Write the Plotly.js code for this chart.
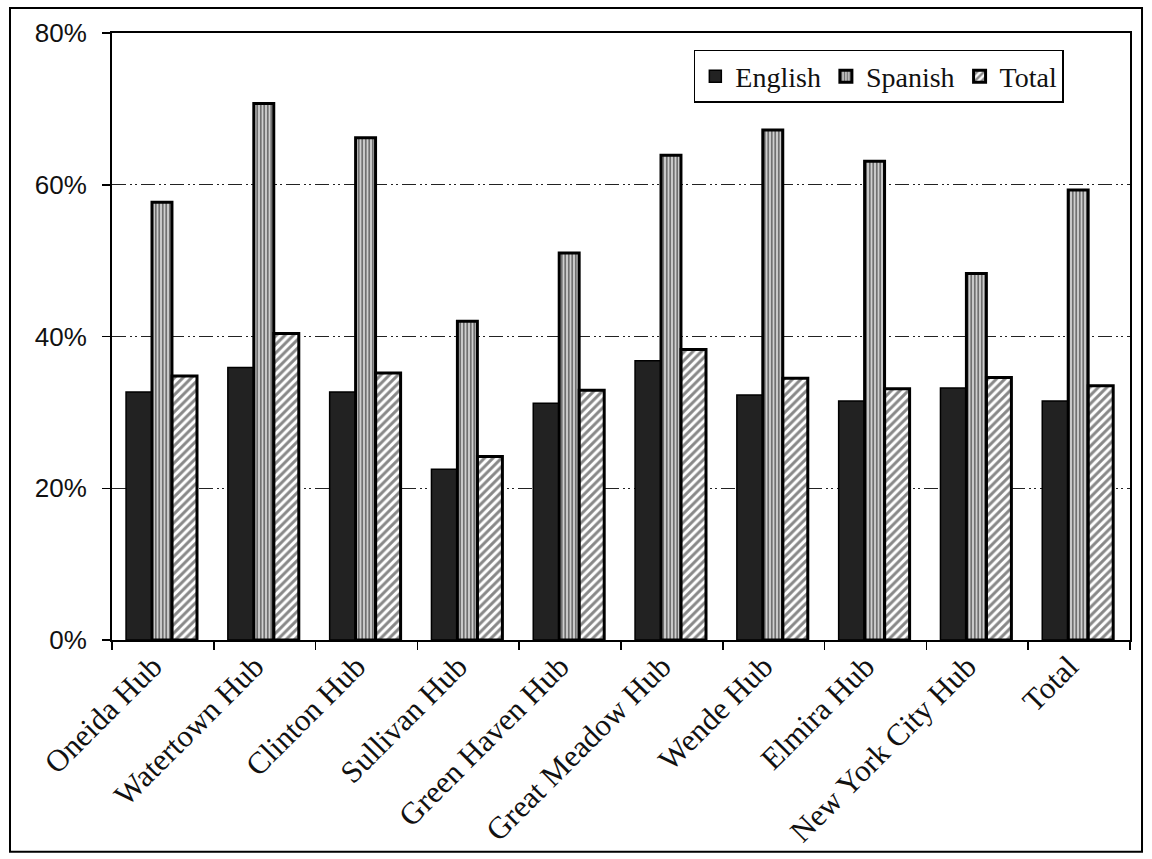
<!DOCTYPE html>
<html>
<head>
<meta charset="utf-8">
<script src="https://cdn.plot.ly/plotly-3.0.1.min.js"></script>
<style>
  html, body { margin: 0; padding: 0; background: #ffffff; }
  #chart { width: 1152px; height: 859px; }
</style>
</head>
<body>
<div id="chart"></div>
<script>
// Categories (hubs)
const categories = ["Oneida Hub", "Watertown Hub", "Clinton Hub", "Sullivan Hub", "Green Haven Hub",
                    "Great Meadow Hub", "Wende Hub", "Elmira Hub", "New York City Hub", "Total"];
// Series values (percent)
const english = [32.7, 35.9, 32.7, 22.5, 31.2, 36.8, 32.3, 31.5, 33.2, 31.5];
const spanish = [57.7, 70.7, 66.2, 42.0, 51.0, 63.9, 67.2, 63.1, 48.3, 59.3];
const total   = [34.8, 40.4, 35.2, 24.2, 32.9, 38.3, 34.5, 33.1, 34.6, 33.5];
// Y tick values
const yTicks = [0, 20, 40, 60, 80];
const yTickLabels = ["0%", "20%", "40%", "60%", "80%"];

const serif = "Liberation Serif, Times New Roman, serif";
const sans = "Liberation Sans, Arial, sans-serif";

const traces = [
  {
    type: "bar", name: "English", x: categories, y: english,
    offset: -0.362, width: 0.255,
    marker: { color: "#222222", line: { color: "#000000", width: 1.5 } },
    hoverinfo: "skip"
  },
  {
    type: "bar", name: "Spanish", x: categories, y: spanish,
    offset: -0.107, width: 0.196,
    marker: {
      color: "#bbbbbb",
      line: { color: "#000000", width: 3 },
      pattern: { shape: "|", size: 3.5, solidity: 0.5, fgcolor: "#111111", bgcolor: "#cfcfcf", fillmode: "overlay" }
    },
    hoverinfo: "skip"
  },
  {
    type: "bar", name: "Total", x: categories, y: total,
    offset: 0.09, width: 0.245,
    marker: {
      color: "#ffffff",
      line: { color: "#000000", width: 3 },
      pattern: { shape: "/", size: 6, solidity: 0.5, fgcolor: "#111111", bgcolor: "#ffffff", fillmode: "overlay" }
    },
    hoverinfo: "skip"
  }
];

const layout = {
  width: 1152, height: 859,
  margin: { l: 112, r: 22, t: 33, b: 219 },
  paper_bgcolor: "#ffffff", plot_bgcolor: "#ffffff",
  barmode: "overlay",
  showlegend: true,
  legend: {
    orientation: "h",
    x: 0.935, xanchor: "right",
    y: 0.972, yanchor: "top",
    bgcolor: "#ffffff", bordercolor: "#000000", borderwidth: 1.5,
    font: { family: serif, size: 28, color: "#111111" },
    itemwidth: 30, traceorder: "normal"
  },
  xaxis: {
    type: "category",
    showline: true, linecolor: "#000000", linewidth: 2, mirror: true,
    ticks: "outside", ticklen: 8, tickwidth: 1.5, tickcolor: "#000000",
    tickson: "boundaries",
    tickangle: -45,
    ticklabelstandoff: -6,
    ticklabelshift: -10,
    tickfont: { family: serif, size: 31, color: "#111111" },
    showgrid: false, zeroline: false, fixedrange: true
  },
  yaxis: {
    range: [0, 80],
    tickvals: yTicks, ticktext: yTickLabels,
    showline: true, linecolor: "#000000", linewidth: 2, mirror: true,
    ticks: "outside", ticklen: 8, tickwidth: 1.5, tickcolor: "#000000",
    ticklabelstandoff: 10,
    tickfont: { family: sans, size: 26, color: "#111111" },
    showgrid: true, gridcolor: "#222222", gridwidth: 1.3,
    griddash: "14px,4px,2px,3px,2px,4px",
    zeroline: false, fixedrange: true
  },
  shapes: [
    {
      type: "rect", xref: "paper", yref: "paper",
      x0: -0.1002, x1: 1.0118, y0: -0.349, y1: 1.041,
      line: { color: "#000000", width: 2 }, fillcolor: "rgba(0,0,0,0)", layer: "below"
    }
  ]
};

Plotly.newPlot("chart", traces, layout, { staticPlot: true, displayModeBar: false });
</script>
</body>
</html>
